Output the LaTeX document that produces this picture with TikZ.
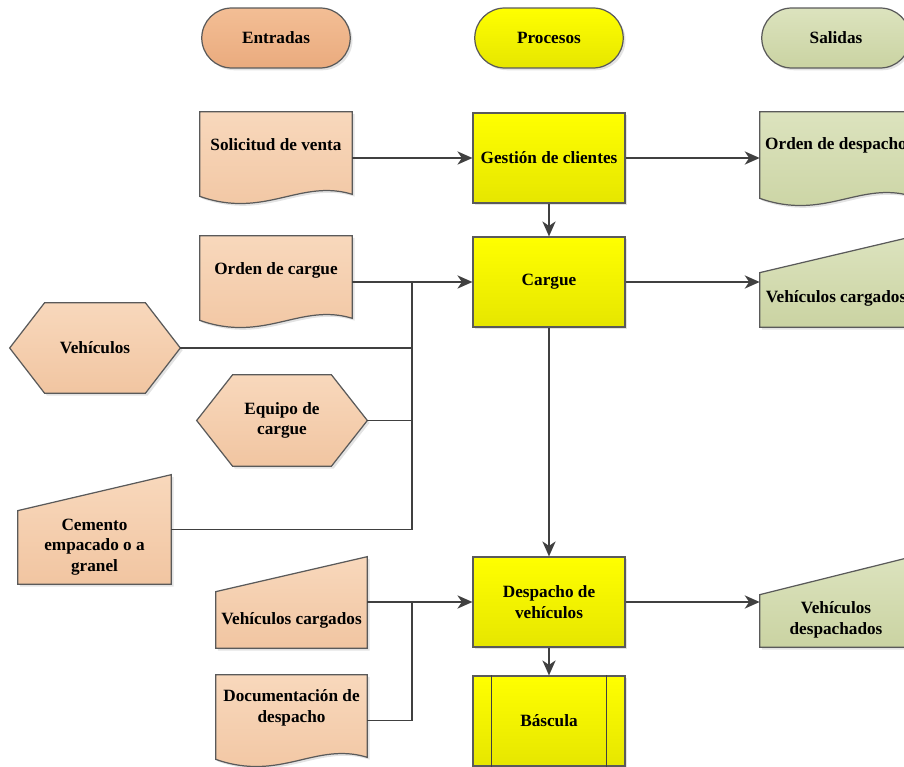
\documentclass[tikz,border=0pt]{standalone}
\usepackage{fontspec}
\setmainfont{Liberation Serif}
\usetikzlibrary{positioning,calc,shapes.misc,shadows,arrows.meta}

\definecolor{edge}{HTML}{5A5A5A}
\definecolor{wire}{HTML}{404040}
\definecolor{ortop}{HTML}{F8D8BC}
\definecolor{orbot}{HTML}{F1C5A1}
\definecolor{termtop}{HTML}{F3BE95}
\definecolor{termbot}{HTML}{EAAB7E}
\definecolor{grtop}{HTML}{DCE3BE}
\definecolor{grbot}{HTML}{CAD3A2}
\definecolor{yltop}{HTML}{FFFF00}
\definecolor{ylbot}{HTML}{E6E600}

\tikzset{>={Stealth[length=8.5pt,width=7.5pt,inset=2.5pt]}}
\tikzset{
  txt/.style={font=\fontsize{9.8}{11.8}\selectfont\bfseries,align=center,inner sep=1pt},
  shd/.style={drop shadow={opacity=0.22,shadow xshift=1.3pt,shadow yshift=-1.3pt}},
  orfill/.style={draw=edge,line width=0.7pt,top color=ortop,bottom color=orbot,shd},
  grfill/.style={draw=edge,line width=0.7pt,top color=grtop,bottom color=grbot,shd},
  term/.style={rounded rectangle,minimum width=3.04cm,minimum height=1.2cm,
    draw=edge,line width=0.7pt,shd,txt},
  proc/.style={rectangle,minimum width=3.04cm,minimum height=1.8cm,
    draw=edge,line width=0.7pt,top color=yltop,bottom color=ylbot,shd,txt},
  box/.style 2 args={minimum width=#1,minimum height=#2,inner sep=0pt},
  flow/.style={draw=wire,line width=0.8pt,->},
  wire/.style={draw=wire,line width=0.8pt}
}

% shape outlines drawn round an empty named node
\newcommand{\docshape}[2]{\path[#2] (#1.north west) -- (#1.north east)
  -- ($(#1.south east)+(0,-9)$) .. controls ($(#1.south east)+(-52,-25)$)
  and ($(#1.south west)+(65,16)$) .. ($(#1.south west)+(0,-7)$) -- cycle;}
\newcommand{\inshape}[3]{\path[#2] ($(#1.north west)+(0,#3)$) -- (#1.north east)
  -- (#1.south east) -- (#1.south west) -- cycle;}
\newcommand{\hexshape}[3]{\path[#2] (#1.west) -- ($(#1.north west)+(#3,0)$)
  -- ($(#1.north east)+(-#3,0)$) -- (#1.east) -- ($(#1.south east)+(-#3,0)$)
  -- ($(#1.south west)+(#3,0)$) -- cycle;}

\begin{document}
\begin{tikzpicture}[x=0.02cm,y=-0.02cm]
  \useasboundingbox (0,0) rectangle (904,767);
  \clip (0,0) rectangle (904,767);

  % column heads
  \node[term,top color=termtop,bottom color=termbot] (ent) at (276,38) {Entradas};
  \node[term,top color=yltop,bottom color=ylbot] (pro) at (549,38) {Procesos};
  \node[term,top color=grtop,bottom color=grbot] (sal) at (836,38) {Salidas};

  % entradas
  \node[box={3.04cm}{1.82cm}] (sv) at (276,157.5) {};
  \docshape{sv}{orfill}
  \node[txt] (sv-t) at (276,145) {Solicitud de venta};

  \node[box={3.04cm}{1.82cm}] (oc) at (276,281.5) {};
  \docshape{oc}{orfill}
  \node[txt] (oc-t) at (276,270) {Orden de cargue};

  \node[box={3.4cm}{1.8cm}] (vh) at (95,348) {};
  \hexshape{vh}{orfill}{35}
  \node[txt] (vh-t) at (vh) {Veh\'iculos};

  \node[box={3.4cm}{1.82cm}] (eq) at (282,420.5) {};
  \hexshape{eq}{orfill}{36}
  \node[txt] (eq-t) at (eq) {Equipo de\\cargue};

  \node[box={3.06cm}{2.18cm}] (ce) at (94.5,529.5) {};
  \inshape{ce}{orfill}{36}
  \node[txt] (ce-t) at (94.5,547) {Cemento\\empacado o a\\granel};

  \node[box={3.02cm}{1.82cm}] (vo) at (291.5,602.5) {};
  \inshape{vo}{orfill}{35}
  \node[txt] (vo-t) at (291.5,620) {Veh\'iculos cargados};

  \node[box={3.02cm}{1.82cm}] (dd) at (291.5,720.5) {};
  \docshape{dd}{orfill}
  \node[txt] (dd-t) at (291.5,708) {Documentaci\'on de\\despacho};

  % procesos
  \node[proc] (gc) at (549,158) {Gesti\'on de clientes};
  \node[proc] (cg) at (549,282) {Cargue};
  \node[proc] (dv) at (549,602) {Despacho de\\veh\'iculos};
  \node[proc] (bs) at (549,721) {B\'ascula};
  \draw[wire] ([xshift=0.38cm]bs.north west) -- ([xshift=0.38cm]bs.south west);
  \draw[wire] ([xshift=-0.38cm]bs.north east) -- ([xshift=-0.38cm]bs.south east);

  % salidas
  \node[box={3.04cm}{1.86cm}] (od) at (836,158.5) {};
  \docshape{od}{grfill}
  \node[txt] (od-t) at (836,145) {Orden de despacho};

  \node[box={3.04cm}{1.8cm}] (vc) at (836,282) {};
  \inshape{vc}{grfill}{36}
  \node[txt] (vc-t) at (836,298) {Veh\'iculos cargados};

  \node[box={3.04cm}{1.8cm}] (vd) at (836,602) {};
  \inshape{vd}{grfill}{38}
  \node[txt] (vd-t) at (836,620) {Veh\'iculos\\despachados};

  % connectors
  \coordinate (j1) at (412,282);
  \coordinate (j2) at (412,603);
  \draw[flow] (gc.west -| sv.east) -- (gc.west);
  \draw[flow] (gc.east) -- (gc.east -| od.west);
  \draw[flow] (gc.south) -- (cg.north);
  \draw[flow] (cg.west -| oc.east) -- (cg.west);
  \draw[wire] (vh.east) -| (j1);
  \draw[wire] (eq.east) -| (j1);
  \draw[wire] (ce.east) -| (j1);
  \draw[flow] (cg.east) -- (cg.east -| vc.west);
  \draw[flow] (cg.south) -- (dv.north);
  \draw[flow] (dv.west -| vo.east) -- (dv.west);
  \draw[wire] (dd.east) -| (j2);
  \draw[flow] (dv.south) -- (bs.north);
  \draw[flow] (dv.east) -- (dv.east -| vd.west);
\end{tikzpicture}
\end{document}
